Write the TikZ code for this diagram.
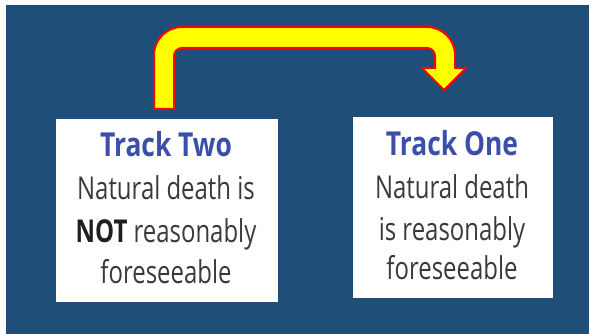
\documentclass[tikz,border=0pt]{standalone}
\usepackage{fontspec}
\newfontfamily\osc{Open Sans}[FakeStretch=0.76]
\newfontfamily\osct{Open Sans}[FakeStretch=0.8]
\definecolor{bgblue}{HTML}{1F4E79}
\definecolor{ttlblue}{HTML}{3B4FAA}
\definecolor{txtgray}{HTML}{3A3A3A}
\definecolor{arrowyel}{HTML}{FFFF00}
\definecolor{arrowred}{HTML}{FF0000}
\tikzset{
  card/.style={fill=white, draw=none},
  ttl/.style={anchor=base, inner sep=0pt, font=\osct\fontsize{33}{33}\selectfont\bfseries, text=ttlblue},
  body/.style={anchor=base, inner sep=0pt, font=\osc\fontsize{31.5}{31.5}\selectfont, text=txtgray},
  bigarrow/.style={fill=arrowyel, draw=arrowred, line width=2pt, line join=miter}
}
\begin{document}
\begin{tikzpicture}[x=1pt,y=1pt]
\useasboundingbox (0,0) rectangle (590,334);
\fill[white] (0,0) rectangle (590,334);
\fill[bgblue] (6,0) rectangle (589,329);
% cards
\fill[card] (56,32) rectangle (278,215);
\fill[card] (353,36) rectangle (553,217);
% left text
\node[ttl]  (l1) at (166,177) {Track Two};
\node[body] (l2) at (166,134) {Natural death is};
\node[body] (l3) at (166,91)  {\textbf{\color{black!88}NOT} reasonably};
\node[body] (l4) at (166,50)  {foreseeable};
% right text
\node[ttl]  (r1) at (452,178) {Track One};
\node[body] (r2) at (452,135) {Natural death};
\node[body] (r3) at (452,93)  {is reasonably};
\node[body] (r4) at (452,54)  {foreseeable};
% arrow
\draw[bigarrow] (154,225) -- (154,279) arc[start angle=180, end angle=90, radius=28]
  -- (427,307) arc[start angle=90, end angle=0, radius=28]
  -- (455,266) -- (466,266) -- (444,244) -- (422,266) -- (435,266)
  -- (435,278) arc[start angle=0, end angle=90, radius=8]
  -- (182,286) arc[start angle=90, end angle=180, radius=8]
  -- (174,225) -- cycle;
\end{tikzpicture}
\end{document}
